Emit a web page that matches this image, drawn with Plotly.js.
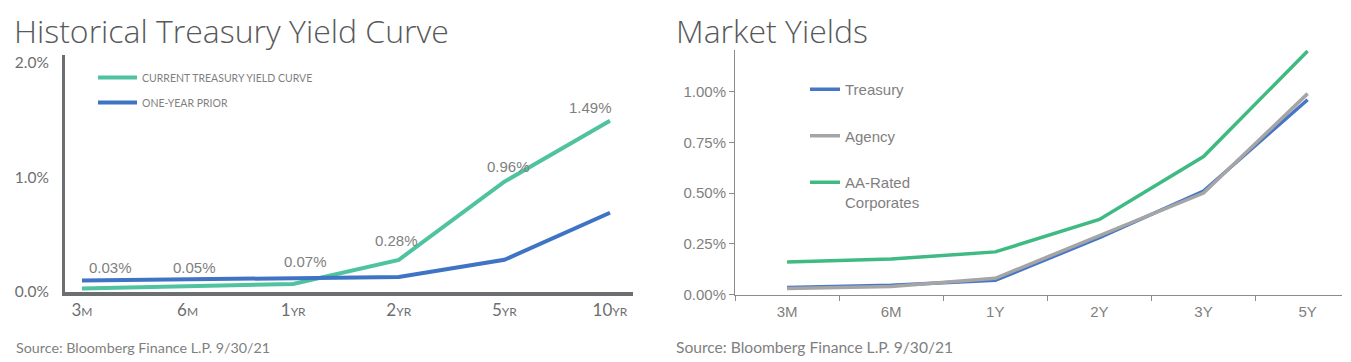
<!DOCTYPE html>
<html>
<head>
<meta charset="utf-8">
<script src="https://cdn.plot.ly/plotly-3.0.1.min.js"></script>
<style>html,body{margin:0;padding:0;background:#fff;}#chart{width:1351px;height:362px;}</style>
</head>
<body>
<div id="chart"></div>
<script>
// ---- Data ----
var histCategories = ['3M', '6M', '1YR', '2YR', '5YR', '10YR'];
var histTickLabels = ['3<span style="font-size:12px">M</span>', '6<span style="font-size:12px">M</span>',
  '1<span style="font-size:12px">YR</span>', '2<span style="font-size:12px">YR</span>',
  '5<span style="font-size:12px">YR</span>', '10<span style="font-size:12px">YR</span>'];
var histCurrent = [0.03, 0.05, 0.07, 0.28, 0.96, 1.49];
var histPrior = [0.10, 0.11, 0.12, 0.13, 0.28, 0.69];
var histYTicks = [0, 1, 2];
var histYTickLabels = ['0.0%', '1.0%', '2.0%'];

var mktCategories = ['3M', '6M', '1Y', '2Y', '3Y', '5Y'];
var mktTreasury = [0.035, 0.045, 0.07, 0.28, 0.51, 0.96];
var mktAgency = [0.03, 0.04, 0.08, 0.29, 0.50, 0.99];
var mktCorporates = [0.16, 0.175, 0.21, 0.37, 0.68, 1.20];
var mktYTicks = [0, 0.25, 0.5, 0.75, 1.0];
var mktYTickLabels = ['0.00%', '0.25%', '0.50%', '0.75%', '1.00%'];

// ---- Styles ----
var W = 1351, H = 362;
function px(x) { return x / W; }
function py(y) { return (H - y) / H; }
var lato = 'Lato, "Open Sans", sans-serif';
var arial = '"Liberation Sans", Arial, sans-serif';
var axisGray = '#6d6e71';
var textGray = '#7f7f7f';

var traces = [
  {x: histCategories, y: histCurrent, xaxis: 'x', yaxis: 'y', type: 'scatter', mode: 'lines',
   name: 'CURRENT TREASURY YIELD CURVE', line: {color: '#4fc39f', width: 4}, legend: 'legend', legendgroup: 'a'},
  {x: histCategories, y: histPrior, xaxis: 'x', yaxis: 'y', type: 'scatter', mode: 'lines',
   name: 'ONE-YEAR PRIOR', line: {color: '#3f74c4', width: 4}, legend: 'legend', legendgroup: 'b'},
  {x: mktCategories, y: mktTreasury, xaxis: 'x2', yaxis: 'y2', type: 'scatter', mode: 'lines',
   name: 'Treasury', line: {color: '#4677c7', width: 3.5}, legend: 'legend2', legendgroup: 'c'},
  {x: mktCategories, y: mktAgency, xaxis: 'x2', yaxis: 'y2', type: 'scatter', mode: 'lines',
   name: 'Agency', line: {color: '#a5a5a5', width: 3.5}, legend: 'legend2', legendgroup: 'd'},
  {x: mktCategories, y: mktCorporates, xaxis: 'x2', yaxis: 'y2', type: 'scatter', mode: 'lines',
   name: 'AA-Rated<br>Corporates', line: {color: '#3fba82', width: 3.5}, legend: 'legend2', legendgroup: 'e'}
];

// data-label offsets (px) for the current curve
var labelDx = [28, 7, 12, -2, 4, -19];
var labelDy = [21, 19, 22, 19, 15, 13];

var annotations = histCurrent.map(function (v, i) {
  return {x: histCategories[i], y: v, xref: 'x', yref: 'y', text: v.toFixed(2) + '%',
    showarrow: false, xshift: labelDx[i], yshift: labelDy[i],
    font: {family: arial, size: 15, color: textGray}};
});
annotations.push(
  {x: px(12), y: py(31), xref: 'paper', yref: 'paper', xanchor: 'left', yanchor: 'middle', showarrow: false,
   text: 'Historical Treasury Yield Curve', font: {family: '"Open Sans", sans-serif', size: 32, color: '#58595b', weight: 300}},
  {x: px(674), y: py(31), xref: 'paper', yref: 'paper', xanchor: 'left', yanchor: 'middle', showarrow: false,
   text: 'Market Yields', font: {family: '"Open Sans", sans-serif', size: 32, color: '#58595b', weight: 300}},
  {x: px(14), y: py(347), xref: 'paper', yref: 'paper', xanchor: 'left', yanchor: 'middle', showarrow: false,
   text: 'Source: Bloomberg Finance L.P. 9/30/21', font: {family: lato, size: 14.3, color: textGray}},
  {x: px(674), y: py(347), xref: 'paper', yref: 'paper', xanchor: 'left', yanchor: 'middle', showarrow: false,
   text: 'Source: Bloomberg Finance L.P. 9/30/21', font: {family: lato, size: 15.6, color: textGray}}
);

var layout = {
  width: W, height: H,
  margin: {l: 0, r: 0, t: 0, b: 0},
  paper_bgcolor: '#fff', plot_bgcolor: '#fff',
  showlegend: true,
  xaxis: {
    domain: [px(65), px(633)], type: 'category', range: [-0.161, 5.218],
    tickvals: histCategories, ticktext: histTickLabels,
    showline: true, linecolor: axisGray, linewidth: 4, showgrid: false, zeroline: false,
    ticks: '', ticklabelstandoff: 0,
    tickfont: {family: lato, size: 17, color: axisGray}, fixedrange: true
  },
  yaxis: {
    domain: [py(292), py(55)], range: [0, 2.063],
    tickvals: histYTicks, ticktext: histYTickLabels,
    showline: true, linecolor: axisGray, linewidth: 3, showgrid: false, zeroline: false,
    ticks: '', ticklabelstandoff: 10,
    tickfont: {family: lato, size: 15.5, color: axisGray}, fixedrange: true
  },
  xaxis2: {
    domain: [px(735), px(1342)], type: 'category', range: [-0.5, 5.33], anchor: 'y2',
    showline: true, linecolor: '#8c8c8c', linewidth: 1, showgrid: false, zeroline: false,
    ticks: 'outside', tickson: 'boundaries', ticklen: 5, tickcolor: '#8c8c8c', tickwidth: 1,
    ticklabelstandoff: 3,
    tickfont: {family: arial, size: 15, color: textGray}, fixedrange: true
  },
  yaxis2: {
    domain: [py(294.5), py(50)], range: [0, 1.205], anchor: 'x2',
    tickvals: mktYTicks, ticktext: mktYTickLabels,
    showline: true, linecolor: '#8c8c8c', linewidth: 1, showgrid: false, zeroline: false,
    ticks: 'outside', ticklen: 5, tickcolor: '#8c8c8c', tickwidth: 1,
    tickfont: {family: arial, size: 15, color: textGray}, fixedrange: true
  },
  legend: {
    x: px(93), y: py(63), xanchor: 'left', yanchor: 'top', bgcolor: 'rgba(0,0,0,0)',
    font: {family: lato, size: 10.5, color: textGray}, tracegroupgap: 6, traceorder: 'grouped',
    itemwidth: 39
  },
  legend2: {
    x: px(805), y: py(73), xanchor: 'left', yanchor: 'top', bgcolor: 'rgba(0,0,0,0)',
    font: {family: arial, size: 15, color: textGray}, tracegroupgap: 24, traceorder: 'grouped',
    valign: 'top'
  },
  annotations: annotations
};

Plotly.newPlot('chart', traces, layout, {displayModeBar: false, staticPlot: true});
</script>
</body>
</html>
